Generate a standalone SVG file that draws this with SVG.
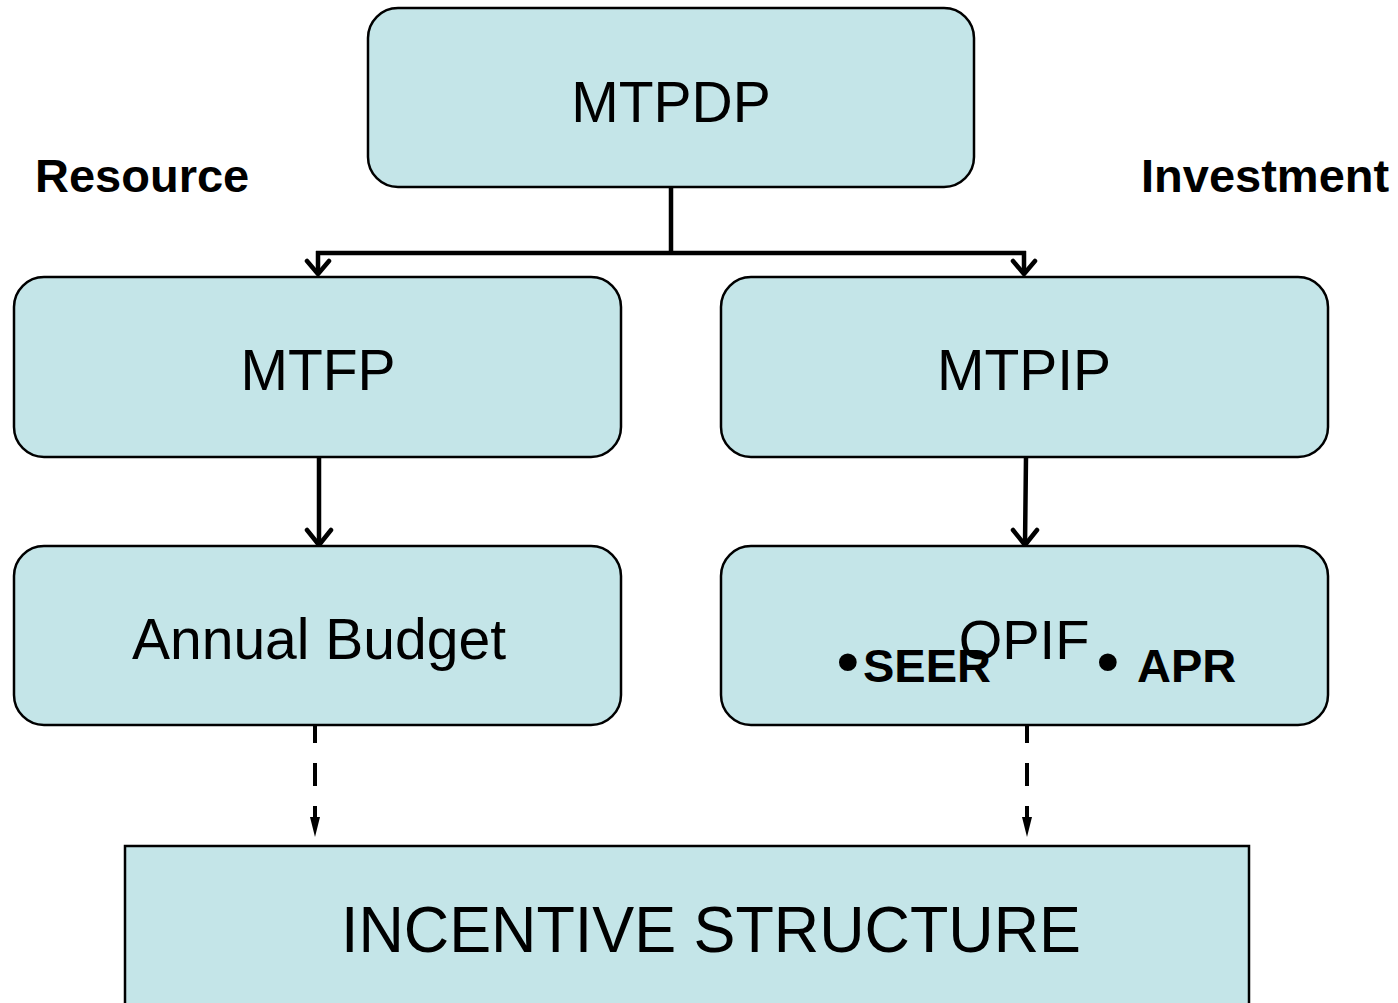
<svg xmlns="http://www.w3.org/2000/svg" width="1398" height="1003" viewBox="0 0 1398 1003">
<style>
.box{fill:#C4E5E8;stroke:#000;stroke-width:2.5}
.t{font-family:"Liberation Sans",Arial,sans-serif;fill:#000;text-anchor:middle}
.lbl{font-family:"Liberation Sans",Arial,sans-serif;font-weight:bold;fill:#000}
.con{fill:none;stroke:#000;stroke-width:4.5}
.head{fill:none;stroke:#000;stroke-width:4.5;stroke-linecap:round;stroke-linejoin:round}
.dash{fill:none;stroke:#000;stroke-width:4;stroke-dasharray:23 20}
</style>
<rect width="1398" height="1003" fill="#fff"/>
<text class="lbl" x="35" y="192" font-size="47">Resource</text>
<text class="lbl" x="1141" y="192" font-size="47">Investment</text>
<g id="connectors">
<path class="con" d="M671,187 V253 M316,253 H1026 M318,251 V273 M1024,251 V273"/>
<path class="head" d="M307,261 L318,274 L329,261 M1013,261 L1024,274 L1035,261"/>
<path class="con" d="M319,457 V545 M1026,457 L1025,545"/>
<path class="head" d="M307,530 L319,545 L331,530 M1013,530 L1025,545 L1037,530"/>
<path class="dash" d="M315,720 V818"/>
<path d="M310,817 L320,817 L315,837 Z" fill="#000"/>
<path class="dash" d="M1027,720 V818"/>
<path d="M1022,817 L1032,817 L1027,837 Z" fill="#000"/>
</g>
<g id="mtpdp">
<rect class="box" x="368" y="8" width="606" height="179" rx="30"/>
<text class="t" x="671" y="122" font-size="57">MTPDP</text>
</g>
<g id="mtfp">
<rect class="box" x="14" y="277" width="607" height="180" rx="30"/>
<text class="t" x="318" y="390" font-size="57">MTFP</text>
</g>
<g id="mtpip">
<rect class="box" x="721" y="277" width="607" height="180" rx="30"/>
<text class="t" x="1024" y="390" font-size="57">MTPIP</text>
</g>
<g id="annual-budget">
<rect class="box" x="14" y="546" width="607" height="179" rx="30"/>
<text class="t" x="319" y="659" font-size="57">Annual Budget</text>
</g>
<g id="opif">
<rect class="box" x="721" y="546" width="607" height="179" rx="30"/>
<text class="t" x="1024" y="659" font-size="56">OPIF</text>
<text class="lbl" y="682"><tspan x="837" font-size="62">•</tspan><tspan x="863" font-size="47">SEER</tspan></text>
<text class="lbl" y="682"><tspan x="1097" font-size="62">• </tspan><tspan x="1137" font-size="47">APR</tspan></text>
</g>
<g id="incentive-structure">
<rect class="box" x="125" y="846" width="1124" height="170"/>
<text class="t" x="711" y="952" font-size="65" textLength="740" lengthAdjust="spacingAndGlyphs">INCENTIVE STRUCTURE</text>
</g>
</svg>
